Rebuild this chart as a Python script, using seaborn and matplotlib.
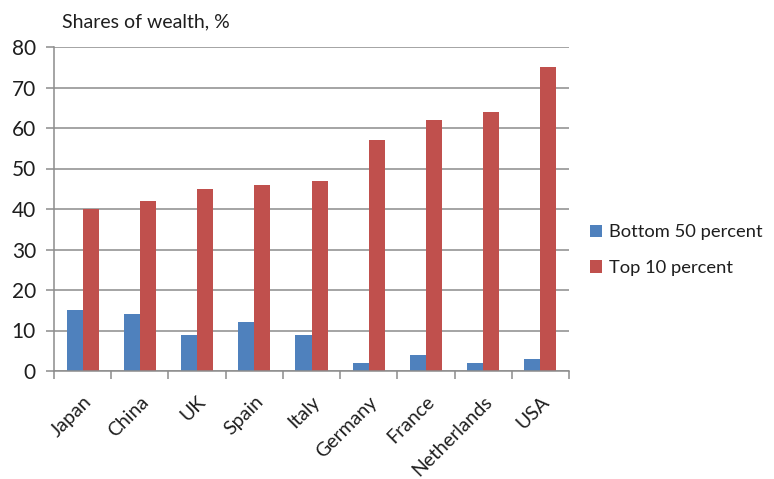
import numpy as np
import pandas as pd
import matplotlib
matplotlib.use("Agg")
import matplotlib.pyplot as plt
import seaborn as sns
from matplotlib.patches import Patch
from matplotlib.ticker import FixedLocator

countries = ["Japan", "China", "UK", "Spain", "Italy", "Germany", "France", "Netherlands", "USA"]
bottom_50 = [15, 14, 9, 12, 9, 2, 4, 2, 3]
top_10 = [40, 42, 45, 46, 47, 57, 62, 64, 75]
series_names = ["Bottom 50 percent", "Top 10 percent"]
series_colors = ["#4F81BD", "#C0504D"]
y_ticks = [0, 10, 20, 30, 40, 50, 60, 70, 80]

df = pd.DataFrame({
    "Country": countries * 2,
    "Series": [series_names[0]] * len(countries) + [series_names[1]] * len(countries),
    "Share": bottom_50 + top_10,
})

sns.set_theme(style="white")
plt.rcParams["font.family"] = ["Lato", "DejaVu Sans"]

fig = plt.figure(figsize=(7.74, 4.79), dpi=100)
ax = fig.add_axes([54 / 774, 1 - 371 / 479, (569 - 54) / 774, (371 - 47) / 479])

sns.barplot(data=df, x="Country", y="Share", hue="Series", order=countries,
            hue_order=series_names, palette=series_colors, width=0.56,
            gap=0, saturation=1, edgecolor="none", legend=False, ax=ax)

grid_col = "#8C8C8C"
txt_col = "#1E1E1E"
ax.set_ylim(0, 80)
ax.set_xlim(-0.5, len(countries) - 0.5)
ax.set_yticks(y_ticks)
ax.set_yticklabels([str(v) for v in y_ticks], fontsize=15, color=txt_col)
ax.yaxis.grid(True, color=grid_col, linewidth=1.1)
ax.set_axisbelow(True)

# category boundary ticks like the spreadsheet original
ax.xaxis.set_minor_locator(FixedLocator(np.arange(-0.5, len(countries), 1.0)))
ax.tick_params(axis="x", which="major", length=0, pad=16)
ax.tick_params(axis="x", which="minor", length=6, width=1.1, color=grid_col, direction="out", bottom=True)
ax.tick_params(axis="y", which="major", length=6, width=1.1, color=grid_col, direction="out", left=True, pad=7)
ax.set_xticks(range(len(countries)))
ax.set_xticklabels(countries, rotation=45, ha="right", rotation_mode="anchor",
                   fontsize=14, color=txt_col)

for side in ["top", "right"]:
    ax.spines[side].set_visible(False)
for side in ["left", "bottom"]:
    ax.spines[side].set_color(grid_col)
    ax.spines[side].set_linewidth(1.1)

ax.set_xlabel("")
ax.set_ylabel("")
fig.text(62 / 774, 1 - 22 / 479, "Shares of wealth, %", fontsize=14,
         color=txt_col, va="center", ha="left")

handles = [Patch(facecolor=c, edgecolor="none") for c in series_colors]
fig.legend(handles, series_names, loc="center left", bbox_to_anchor=(573 / 774, 1 - 250 / 479),
           frameon=False, fontsize=13.2, handlelength=0.7, handleheight=0.7,
           handletextpad=0.35, labelspacing=1.05, labelcolor=txt_col)

fig.savefig("out.png", dpi=100)
